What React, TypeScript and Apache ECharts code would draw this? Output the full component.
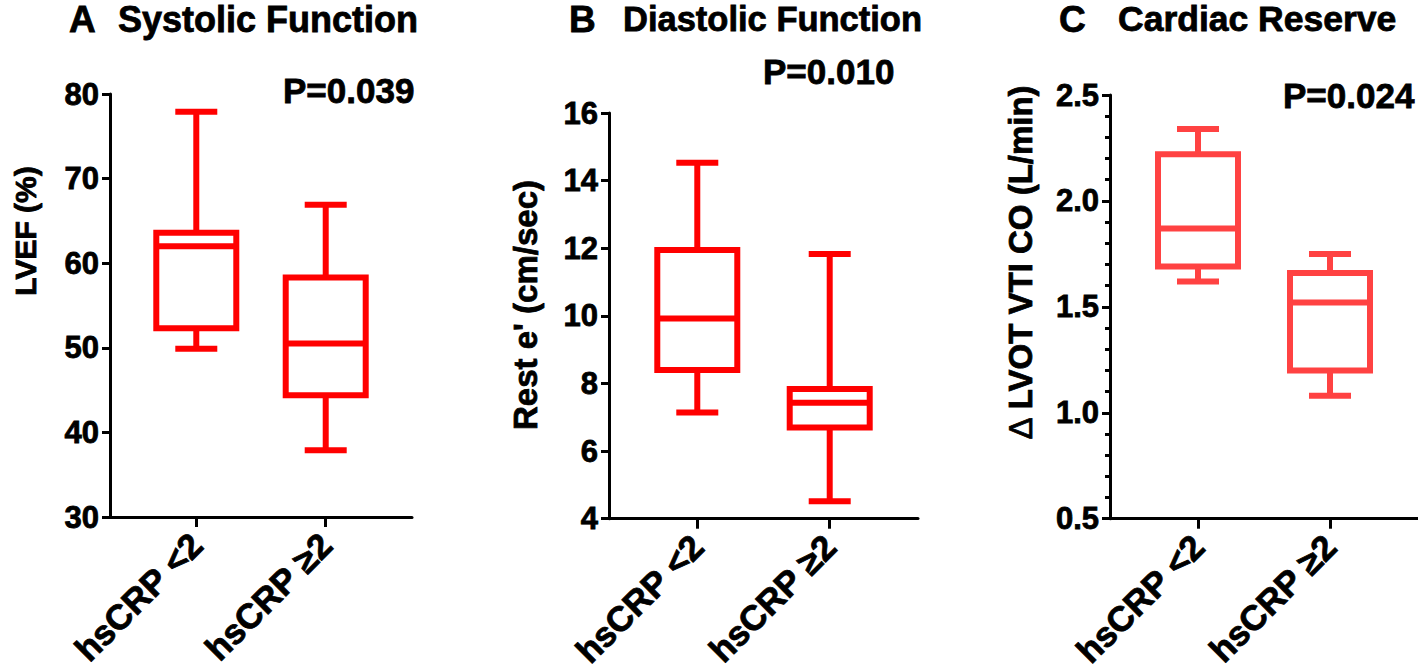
import React, { useEffect, useRef } from 'react';
import * as echarts from 'echarts';

// ---- data ----
const categories = ['hsCRP <2', 'hsCRP \u22652'];
const boxStatKeys = ['min', 'Q1', 'median', 'Q3', 'max'];
// Panel A: LVEF (%)
const lvefLow = [49.9, 52.3, 62.0, 63.6, 77.9];
const lvefHigh = [37.9, 44.4, 50.5, 58.3, 66.9];
// Panel B: Rest e' (cm/sec)
const ePrimeLow = [7.14, 8.4, 9.92, 11.95, 14.53];
const ePrimeHigh = [4.52, 6.7, 7.43, 7.84, 11.83];
// Panel C: delta LVOT VTI CO (L/min)
const coLow = [1.62, 1.69, 1.87, 2.22, 2.34];
const coHigh = [1.08, 1.2, 1.52, 1.66, 1.75];

const yTicksA = [30, 40, 50, 60, 70, 80];
const yTicksB = [4, 6, 8, 10, 12, 14, 16];
const yTicksC = [0.5, 1.0, 1.5, 2.0, 2.5];

const pValues = ['P=0.039', 'P=0.010', 'P=0.024'];
const panelLetters = ['A', 'B', 'C'];
const panelTitles = ['Systolic Function', 'Diastolic Function', 'Cardiac Reserve'];
const yNames = ['LVEF (%)', "Rest e' (cm/sec)", 'LVOT VTI CO (L/min)'];
const deltaSymbol = '\u2206';

const FONT = '"Liberation Sans", Arial, Helvetica, sans-serif';
const RED = '#FF0000';
const RED_C = '#FF4242';

function boxSeries(idx: number, groups: number[][], color: string) {
  return {
    type: 'custom',
    xAxisIndex: idx,
    yAxisIndex: idx,
    clip: false,
    data: groups.map((g, i) => [i + 1, ...g]),
    encode: { x: 0, y: [1, 2, 3, 4, 5] },
    dimensions: ['x', ...boxStatKeys],
    renderItem: (params: any, api: any) => {
      const x = api.value(0);
      const pMin = api.coord([x, api.value(1)]);
      const pQ1 = api.coord([x, api.value(2)]);
      const pMed = api.coord([x, api.value(3)]);
      const pQ3 = api.coord([x, api.value(4)]);
      const pMax = api.coord([x, api.value(5)]);
      const cx = pMin[0];
      const hw = 40;
      const cw = 21;
      const st = { stroke: color, lineWidth: 6, fill: 'none', lineCap: 'butt', lineJoin: 'miter' };
      return {
        type: 'group',
        children: [
          { type: 'rect', shape: { x: cx - hw, y: pQ3[1], width: hw * 2, height: pQ1[1] - pQ3[1] }, style: { ...st, fill: 'rgba(0,0,0,0)' } },
          { type: 'line', shape: { x1: cx - hw, y1: pMed[1], x2: cx + hw, y2: pMed[1] }, style: st },
          { type: 'line', shape: { x1: cx, y1: pQ3[1], x2: cx, y2: pMax[1] }, style: st },
          { type: 'line', shape: { x1: cx, y1: pQ1[1], x2: cx, y2: pMin[1] }, style: st },
          { type: 'line', shape: { x1: cx - cw, y1: pMax[1], x2: cx + cw, y2: pMax[1] }, style: st },
          { type: 'line', shape: { x1: cx - cw, y1: pMin[1], x2: cx + cw, y2: pMin[1] }, style: st },
        ],
      };
    },
  };
}

function xAxisDef(idx: number) {
  return {
    type: 'value',
    gridIndex: idx,
    min: 1 / 3,
    max: 8 / 3,
    splitLine: { show: false },
    axisLine: { show: true, onZero: false, lineStyle: { color: '#000', width: 3 } },
    axisTick: { show: true, customValues: [1, 2], length: 10, lineStyle: { color: '#000', width: 3 } },
    axisLabel: {
      show: true,
      customValues: [1, 2],
      rotate: 45,
      margin: 22,
      formatter: (v: number) => categories[Math.round(v) - 1] ?? '',
      color: '#000',
      fontWeight: 'bold',
      fontSize: 35,
      fontFamily: FONT,
      textBorderColor: '#000',
      textBorderWidth: 0.8,
    },
  };
}

function yAxisDef(idx: number, ticks: number[], decimals: number, minor: boolean) {
  return {
    type: 'value',
    gridIndex: idx,
    min: ticks[0],
    max: ticks[ticks.length - 1],
    interval: ticks[1] - ticks[0],
    splitLine: { show: false },
    axisLine: { show: true, onZero: false, lineStyle: { color: '#000', width: 3 } },
    axisTick: { show: true, length: 8, lineStyle: { color: '#000', width: 3 } },
    minorTick: { show: minor, splitNumber: 5, length: 5, lineStyle: { color: '#000', width: 3 } },
    minorSplitLine: { show: false },
    axisLabel: {
      margin: 11,
      color: '#000',
      fontWeight: 'bold',
      fontSize: 31,
      fontFamily: FONT,
      textBorderColor: '#000',
      textBorderWidth: 0.8,
      formatter: (v: number) => v.toFixed(decimals),
    },
  };
}

function txt(text: string, x: number, y: number, size: number, align = 'left', rotation = 0) {
  return {
    type: 'text',
    x,
    y,
    rotation,
    style: {
      text,
      font: `bold ${size}px ${FONT}`,
      fill: '#000',
      stroke: '#000',
      lineWidth: 0.8,
      textAlign: align,
      align,
      textVerticalAlign: 'middle',
      verticalAlign: 'middle',
    },
  };
}

function richName(x: number, y: number, size: number) {
  return {
    type: 'text',
    x,
    y,
    rotation: Math.PI / 2,
    style: {
      text: `{d|${deltaSymbol}} {b|${yNames[2]}}`,
      fontFamily: FONT,
      fontSize: size,
      fontWeight: 'bold',
      fill: '#000',
      stroke: '#000',
      lineWidth: 0.8,
      align: 'center',
      textAlign: 'center',
      verticalAlign: 'middle',
      textVerticalAlign: 'middle',
      rich: {
        d: { fontFamily: FONT, fontSize: size, fontWeight: 'normal' },
        b: { fontFamily: FONT, fontSize: size, fontWeight: 'bold' },
      },
    },
  };
}

export default function App() {
  const ref = useRef<HTMLDivElement>(null);
  useEffect(() => {
    if (!ref.current) return;
    const chart = echarts.init(ref.current, null, { renderer: 'svg' });
    const option = {
      animation: false,
      backgroundColor: '#fff',
      grid: [
        { left: 110, top: 94, width: 302, height: 423 },
        { left: 609, top: 113, width: 309, height: 409 },
        { left: 1110, top: 95, width: 308, height: 426 },
      ],
      xAxis: [xAxisDef(0), xAxisDef(1), xAxisDef(2)],
      yAxis: [yAxisDef(0, yTicksA, 0, false), yAxisDef(1, yTicksB, 0, false), yAxisDef(2, yTicksC, 1, true)],
      series: [
        boxSeries(0, [lvefLow, lvefHigh], RED),
        boxSeries(1, [ePrimeLow, ePrimeHigh], RED),
        boxSeries(2, [coLow, coHigh], RED_C),
      ],
      graphic: [
        txt(panelLetters[0], 69, 19, 37),
        txt(panelTitles[0], 118, 19, 36),
        txt(panelLetters[1], 569, 19, 37),
        txt(panelTitles[1], 623, 19, 34.5),
        txt(panelLetters[2], 1059, 19, 37),
        txt(panelTitles[2], 1118, 19, 35.5),
        txt(pValues[0], 283, 90, 35),
        txt(pValues[1], 763, 71, 35),
        txt(pValues[2], 1283, 95, 35),
        txt(yNames[0], 25, 231, 30, 'center', Math.PI / 2),
        txt(yNames[1], 525, 305, 33, 'center', Math.PI / 2),
        richName(1020, 262, 33),
      ],
    };
    chart.setOption(option as any);
    return () => chart.dispose();
  }, []);
  return <div ref={ref} style={{ position: 'absolute', left: 0, top: 0, width: 1418, height: 672 }} />;
}
